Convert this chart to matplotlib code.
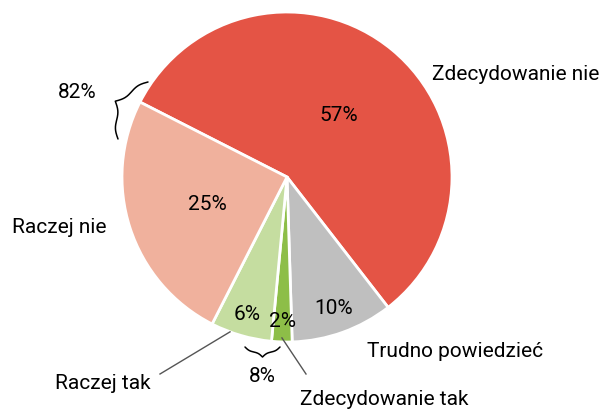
import numpy as np
import matplotlib.pyplot as plt

plt.rcParams['font.family'] = ['Roboto', 'DejaVu Sans']

# data
labels = ["Zdecydowanie nie", "Trudno powiedzieć", "Zdecydowanie tak", "Raczej tak", "Raczej nie"]
values = [57, 10, 2, 6, 25]
colors = ["#E45445", "#BFBFBF", "#8DBE48", "#C5DDA0", "#F0B19D"]
pct_dist = [0.49, 0.84, 0.87, 0.86, 0.51]
group_labels = ["82%", "8%"]

W, H = 605, 410
fig = plt.figure(figsize=(W / 100, H / 100), dpi=100)
ax = fig.add_axes([0, 0, 1, 1])

cx, cy, R = 287, 178, 165

# y axis is inverted, so counterclock=True in data space runs clockwise on screen
wedges, _ = ax.pie(values, colors=colors, startangle=-153, counterclock=True,
                   center=(cx, cy), radius=R, frame=True,
                   wedgeprops=dict(edgecolor="white", linewidth=2))
ax.set_xlim(0, W)
ax.set_ylim(H, 0)
ax.set_aspect("equal")
ax.axis("off")


def pt(ang, r):
    a = np.deg2rad(ang)
    return cx + r * np.cos(a), cy + r * np.sin(a)


fs = 15
for w, v, d in zip(wedges, values, pct_dist):
    mid = (w.theta1 + w.theta2) / 2
    x, y = pt(mid, d * R)
    ax.text(x, y, f"{v}%", ha="center", va="center", fontsize=fs)

ax.text(432, 74, labels[0], ha="left", va="center", fontsize=fs)
ax.text(367, 352, labels[1], ha="left", va="center", fontsize=fs)
ax.text(12, 228, labels[4], ha="left", va="center", fontsize=fs)
ax.text(55, 384, labels[3], ha="left", va="center", fontsize=fs)
ax.text(300, 400, labels[2], ha="left", va="center", fontsize=fs)

# leader lines
w = wedges[3]
x0, y0 = pt((w.theta1 + w.theta2) / 2 + 4, R)
ax.plot([x0, 160], [y0, 375], color="#555555", lw=1)
w = wedges[2]
x0, y0 = pt((w.theta1 + w.theta2) / 2, R - 4)
ax.plot([x0, 306], [y0, 375], color="#555555", lw=1)


def brace(p0, p1, depth):
    p0 = np.array(p0, float)
    p1 = np.array(p1, float)
    d = p1 - p0
    L = np.hypot(*d)
    t = d / L
    n = np.array([t[1], -t[0]])
    k = 14.0 / L
    half = np.linspace(0, L / 2, 80)
    yh = (1 / (1 + np.exp(-k * (half - half[0]))) +
          1 / (1 + np.exp(-k * (half - half[-1]))))
    u = np.concatenate([half, L - half[::-1]])
    v = np.concatenate([yh, yh[::-1]])
    v = (v - v.min()) / (v.max() - v.min()) * depth
    pts = p0 + np.outer(u, t) + np.outer(v, n)
    ax.plot(pts[:, 0], pts[:, 1], color="black", lw=1.1,
            solid_capstyle="round")


brace((148, 83), (118, 140), -20)
brace((280, 348), (245, 348), 10)
ax.text(77, 93, group_labels[0], ha="center", va="center", fontsize=fs)
ax.text(262, 377, group_labels[1], ha="center", va="center", fontsize=fs)

fig.savefig("out.png", dpi=100)
